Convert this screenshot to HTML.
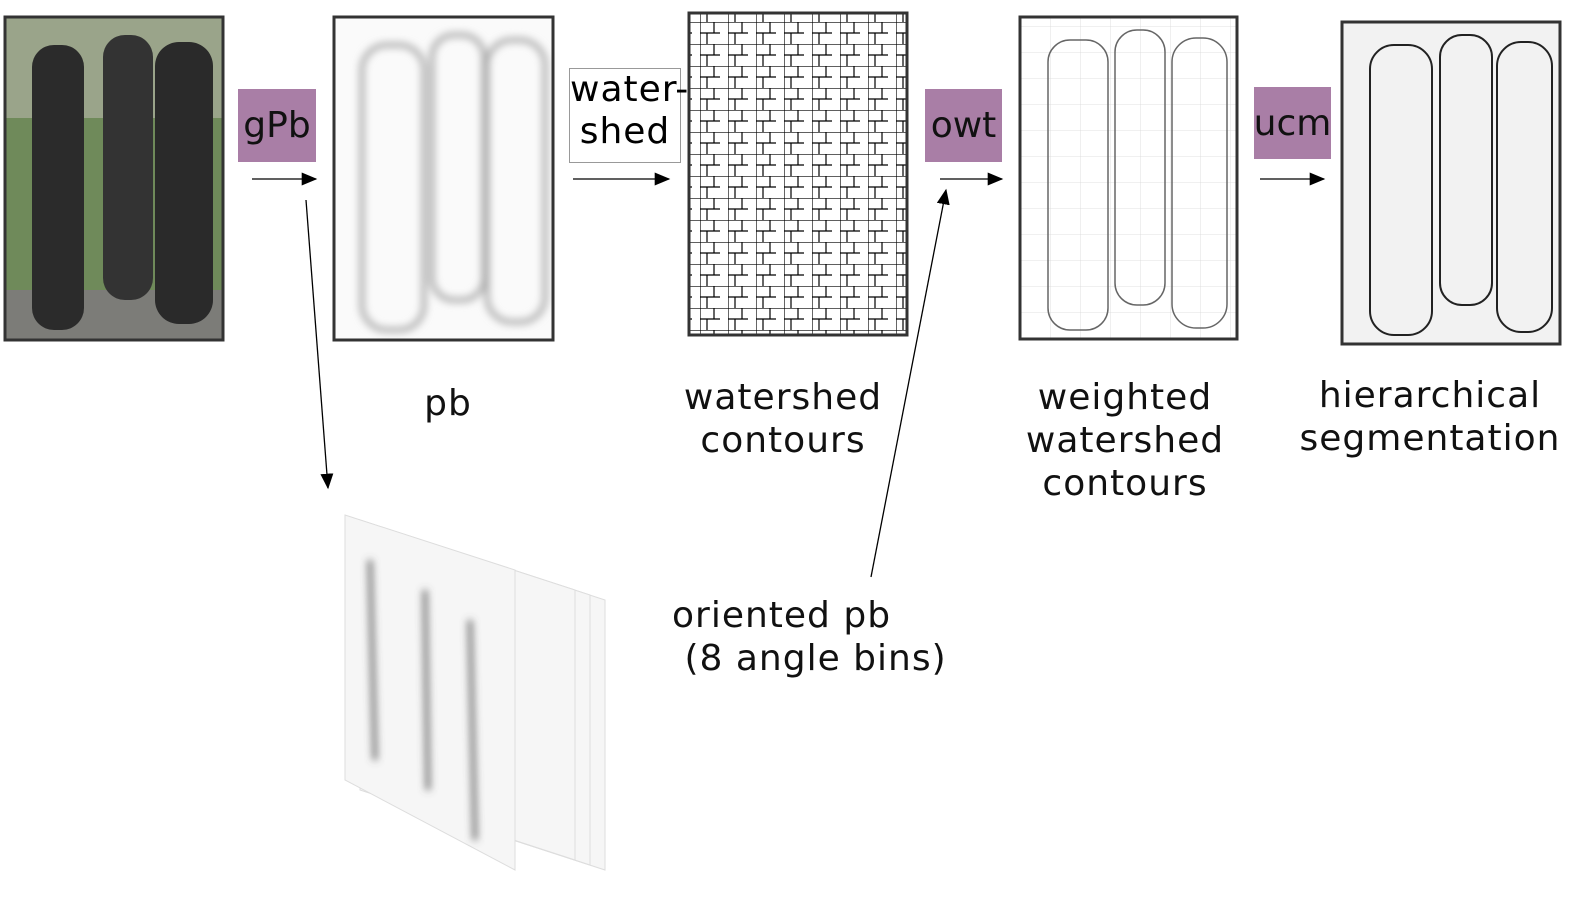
<!DOCTYPE html>
<html><head><meta charset="utf-8">
<style>
body{margin:0;background:#fff;width:1591px;height:912px;overflow:hidden;position:relative;font-family:"DejaVu Sans","Liberation Sans",sans-serif;}
.lbl{position:absolute;font-size:36px;color:#111;text-align:center;line-height:43px;letter-spacing:1px}
.op{position:absolute;background:#a97ea6;font-size:36px;display:flex;align-items:center;justify-content:center;color:#111}
</style></head><body>
<svg width="1591" height="912" style="position:absolute;left:0;top:0">
<defs>
<marker id="ah" markerWidth="12" markerHeight="10" refX="11" refY="5" orient="auto"><path d="M0,0 L12,5 L0,10 Z" fill="#000"/></marker>
<filter id="bl"><feGaussianBlur stdDeviation="4"/></filter>
<pattern id="ws" width="28" height="22" patternUnits="userSpaceOnUse"><path d="M0,0 H28 M0,0 V22 M14,0 V11 M0,11 H20 M7,11 V22" stroke="#000" stroke-width="1.2" fill="none"/></pattern>
<pattern id="wt" width="30" height="26" patternUnits="userSpaceOnUse"><path d="M0,0 H30 M0,0 V26" stroke="#bbb" stroke-width="0.8" fill="none"/></pattern>
</defs>
<!-- photo -->
<g>
<rect x="6" y="18" width="216" height="321" fill="#6f8a5a"/>
<rect x="6" y="18" width="216" height="100" fill="#9aa48a"/>
<rect x="6" y="290" width="216" height="49" fill="#7c7c78"/>
<rect x="32" y="45" width="52" height="285" rx="22" fill="#2b2b2b"/>
<rect x="103" y="35" width="50" height="265" rx="22" fill="#333"/>
<rect x="155" y="42" width="58" height="282" rx="24" fill="#2a2a2a"/>
<rect x="5" y="17" width="218" height="323" fill="none" stroke="#333" stroke-width="3"/>
</g>
<!-- pb -->
<g>
<rect x="334" y="17" width="219" height="323" fill="#fafafa"/>
<g filter="url(#bl)" fill="none" stroke="#aaa" stroke-width="5">
<rect x="362" y="45" width="62" height="285" rx="25"/>
<rect x="432" y="35" width="52" height="265" rx="22"/>
<rect x="487" y="40" width="58" height="282" rx="25"/>
</g>
<rect x="334" y="17" width="219" height="323" fill="none" stroke="#333" stroke-width="3"/>
</g>
<!-- watershed -->
<g>
<rect x="689" y="13" width="218" height="322" fill="url(#ws)"/>
<rect x="689" y="13" width="218" height="322" fill="none" stroke="#333" stroke-width="3"/>
</g>
<!-- weighted -->
<g>
<rect x="1020" y="17" width="217" height="322" fill="url(#wt)" opacity="0.6"/>
<g fill="none" stroke="#666" stroke-width="1.5">
<rect x="1048" y="40" width="60" height="290" rx="22"/>
<rect x="1115" y="30" width="50" height="275" rx="22"/>
<rect x="1172" y="38" width="55" height="290" rx="24"/>
</g>
<rect x="1020" y="17" width="217" height="322" fill="none" stroke="#333" stroke-width="3"/>
</g>
<!-- ucm -->
<g>
<rect x="1342" y="22" width="218" height="322" fill="#f2f2f2"/>
<g fill="none" stroke="#222" stroke-width="2">
<rect x="1370" y="45" width="62" height="290" rx="24"/>
<rect x="1440" y="35" width="52" height="270" rx="22"/>
<rect x="1497" y="42" width="55" height="290" rx="24"/>
</g>
<rect x="1342" y="22" width="218" height="322" fill="none" stroke="#333" stroke-width="3"/>
</g>
<!-- stack -->
<g>
<g fill="#f6f6f6" stroke="#ddd" stroke-width="1">
<polygon points="390,530 605,600 605,870 390,800"/>
<polygon points="375,525 590,595 590,865 375,795"/>
<polygon points="360,520 575,590 575,860 360,790"/>
<polygon points="345,515 515,570 515,870 345,780"/>
</g>
<g filter="url(#bl)" stroke="#555" stroke-width="4" fill="none">
<path d="M370,560 L375,760"/><path d="M425,590 L428,790"/><path d="M470,620 L475,840"/>
</g>
</g>
<!-- arrows -->
<g stroke="#000" stroke-width="1.3" marker-end="url(#ah)">
<line x1="252" y1="179" x2="316" y2="179"/>
<line x1="306" y1="200" x2="328" y2="488"/>
<line x1="573" y1="179" x2="669" y2="179"/>
<line x1="940" y1="179" x2="1002" y2="179"/>
<line x1="871" y1="577" x2="946" y2="190"/>
<line x1="1260" y1="179" x2="1324" y2="179"/>
</g>
</svg>
<div class="op" style="left:238px;top:89px;width:78px;height:73px">gPb</div>
<div class="op" style="left:925px;top:89px;width:77px;height:73px">owt</div>
<div class="op" style="left:1254px;top:87px;width:77px;height:72px">ucm</div>
<div style="position:absolute;left:569px;top:68px;width:110px;height:93px;border:1px solid #999;font-size:36px;line-height:42px;text-align:center;letter-spacing:1px">water-<br>shed</div>
<div class="lbl" style="left:398px;top:382px;width:100px">pb</div>
<div class="lbl" style="left:663px;top:376px;width:240px">watershed<br>contours</div>
<div class="lbl" style="left:1005px;top:376px;width:240px">weighted<br>watershed<br>contours</div>
<div class="lbl" style="left:1290px;top:374px;width:280px">hierarchical<br>segmentation</div>
<div class="lbl" style="left:672px;top:594px;text-align:left;white-space:pre">oriented pb
 (8 angle bins)</div>
</body></html>
